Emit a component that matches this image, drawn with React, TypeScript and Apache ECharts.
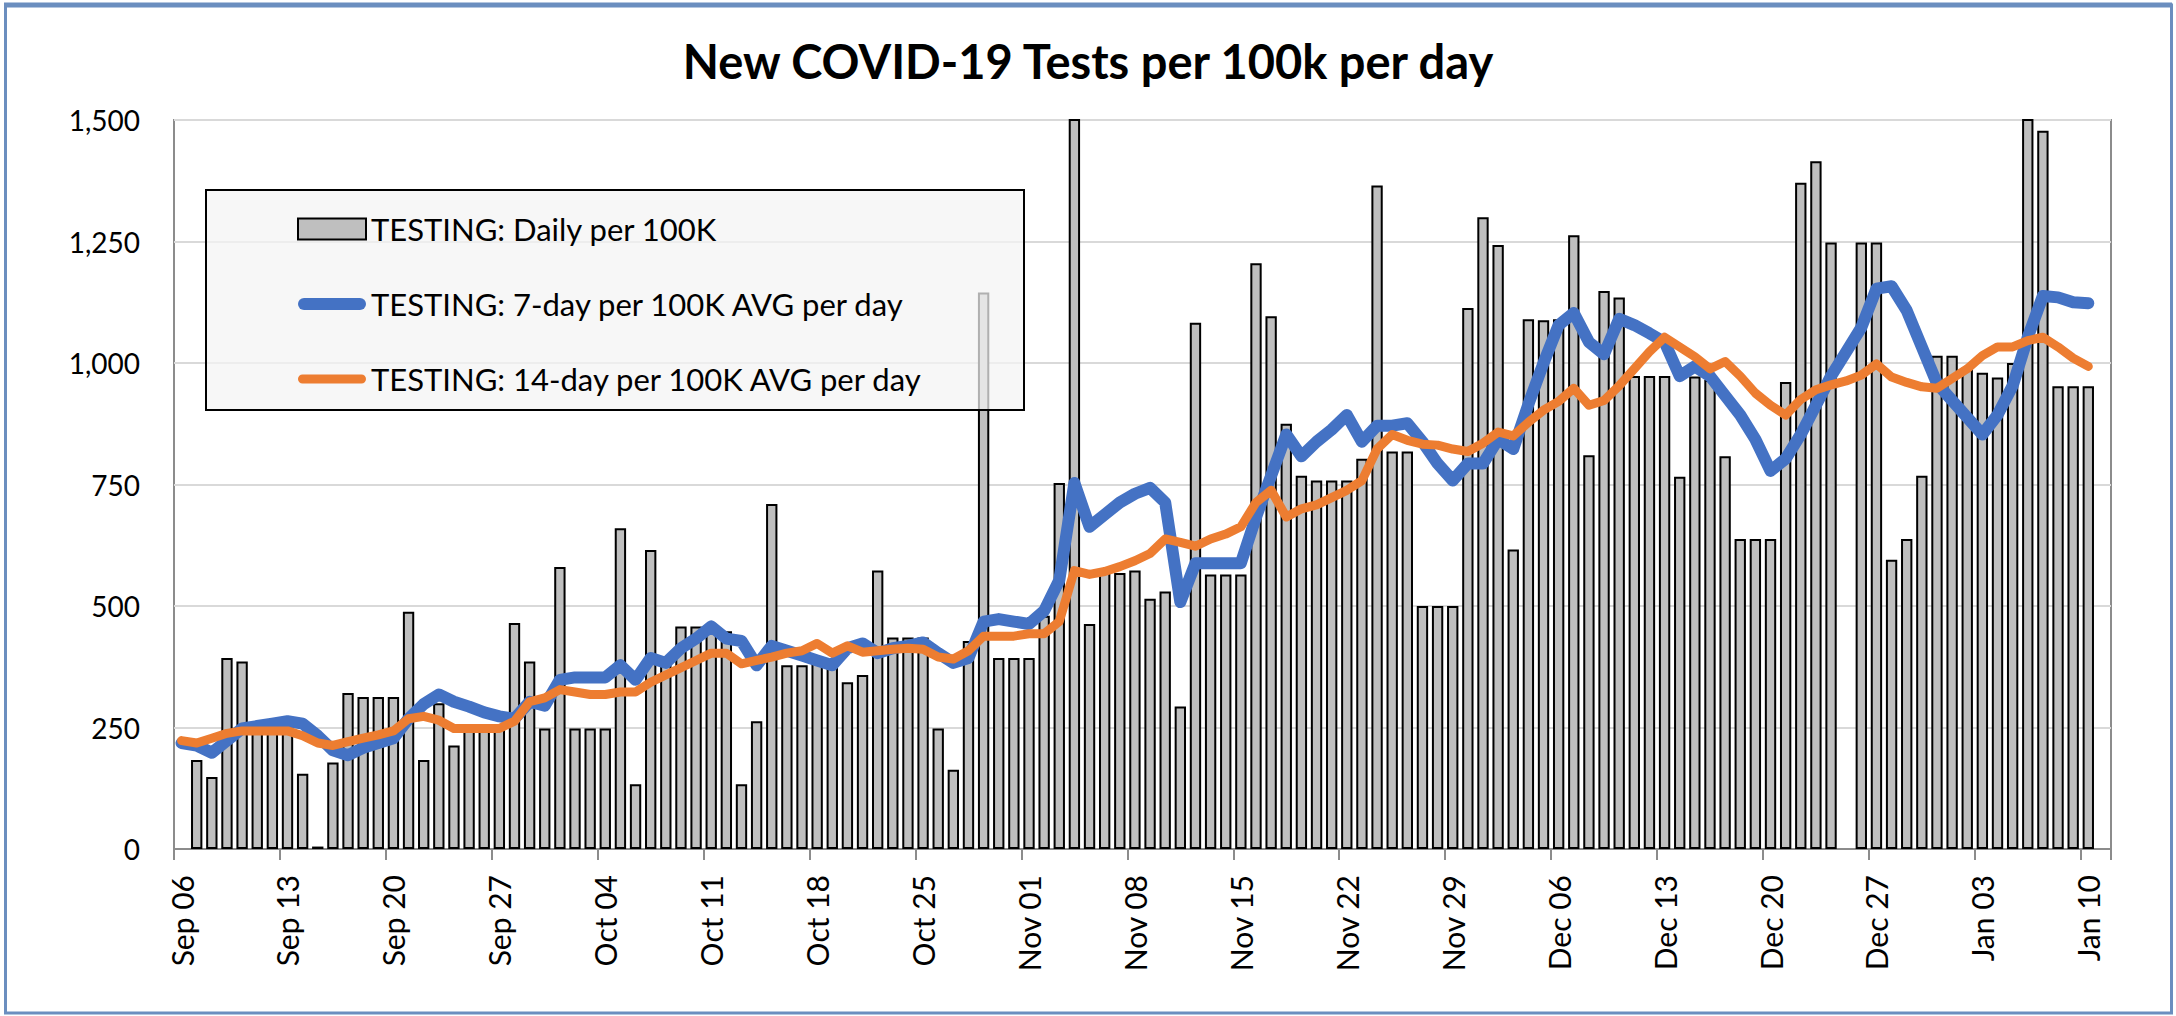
import React, { useEffect, useRef } from "react";
import * as echarts from "echarts";

const TITLE = "New COVID-19 Tests per 100k per day";
const NAME_DAILY = "TESTING: Daily per 100K";
const NAME_7DAY = "TESTING: 7-day per 100K AVG per day";
const NAME_14DAY = "TESTING: 14-day per 100K AVG per day";

const CATEGORIES = [
  "Sep 06","Sep 07","Sep 08","Sep 09","Sep 10","Sep 11","Sep 12","Sep 13","Sep 14","Sep 15","Sep 16","Sep 17","Sep 18","Sep 19","Sep 20",
  "Sep 21","Sep 22","Sep 23","Sep 24","Sep 25","Sep 26","Sep 27","Sep 28","Sep 29","Sep 30",
  "Oct 01","Oct 02","Oct 03","Oct 04","Oct 05","Oct 06","Oct 07","Oct 08","Oct 09","Oct 10","Oct 11","Oct 12","Oct 13","Oct 14","Oct 15",
  "Oct 16","Oct 17","Oct 18","Oct 19","Oct 20","Oct 21","Oct 22","Oct 23","Oct 24","Oct 25","Oct 26","Oct 27","Oct 28","Oct 29","Oct 30","Oct 31",
  "Nov 01","Nov 02","Nov 03","Nov 04","Nov 05","Nov 06","Nov 07","Nov 08","Nov 09","Nov 10","Nov 11","Nov 12","Nov 13","Nov 14","Nov 15",
  "Nov 16","Nov 17","Nov 18","Nov 19","Nov 20","Nov 21","Nov 22","Nov 23","Nov 24","Nov 25","Nov 26","Nov 27","Nov 28","Nov 29","Nov 30",
  "Dec 01","Dec 02","Dec 03","Dec 04","Dec 05","Dec 06","Dec 07","Dec 08","Dec 09","Dec 10","Dec 11","Dec 12","Dec 13","Dec 14","Dec 15",
  "Dec 16","Dec 17","Dec 18","Dec 19","Dec 20","Dec 21","Dec 22","Dec 23","Dec 24","Dec 25","Dec 26","Dec 27","Dec 28","Dec 29","Dec 30","Dec 31",
  "Jan 01","Jan 02","Jan 03","Jan 04","Jan 05","Jan 06","Jan 07","Jan 08","Jan 09","Jan 10","Jan 11",
];

const DAILY: (number | null)[] = [
  null, 183, 148, 393, 386, 250, 250,
  250, 155, 5, 178, 321, 313, 313,
  313, 488, 183, 300, 213, 253, 253,
  253, 465, 386, 248, 580, 248, 248,
  248, 660, 133, 615, 385, 458, 458,
  452, 448, 133, 263, 710, 378, 378,
  385, 380, 343, 358, 573, 435, 435,
  435, 248, 163, 428, 1145, 393, 393,
  393, 480, 753, 1640, 463, 568, 568,
  573, 515, 530, 293, 1083, 565, 565,
  565, 1205, 1096, 875, 768, 758, 758,
  758, 803, 1365, 818, 818, 500, 500,
  500, 1113, 1300, 1243, 616, 1090, 1088,
  1090, 1263, 810, 1148, 1135, 973, 973,
  973, 766, 972, 965, 808, 638, 638,
  638, 961, 1371, 1415, 1248, null, 1248,
  1248, 595, 638, 768, 1015, 1015, 990,
  980, 970, 1000, 1600, 1478, 952, 952,
  952, null,
];

const AVG7: number[] = [
  218, 213, 198, 223, 248, 253, 258,
  263, 258, 233, 203, 193, 208, 218,
  228, 268, 298, 318, 303, 293, 281,
  273, 268, 303, 295, 348, 353, 353,
  353, 378, 348, 393, 383, 413, 433,
  458, 433, 428, 378, 418, 408, 398,
  388, 378, 413, 423, 403, 413, 418,
  425, 403, 383, 393, 468, 473, 468,
  463, 490, 553, 753, 663, 688, 713,
  731, 743, 713, 508, 588, 588, 588,
  588, 683, 768, 853, 808, 838, 863,
  893, 838, 871, 871, 876, 838, 793,
  758, 793, 793, 843, 823, 915, 1000,
  1078, 1103, 1043, 1018, 1091, 1078, 1061,
  1043, 973, 993, 973, 933, 893, 843,
  778, 803, 853, 913, 973, 1023, 1073,
  1153, 1158, 1108, 1033, 958, 923, 888,
  853, 893, 953, 1053, 1138, 1135, 1125,
  1123,
];

const AVG14: number[] = [
  223, 218, 228, 238, 243, 243, 243,
  243, 233, 218, 213, 221, 228, 235,
  243, 268, 273, 265, 248, 248, 248,
  248, 263, 303, 311, 328, 323, 318,
  318, 323, 323, 343, 358, 373, 388,
  403, 403, 381, 388, 395, 403, 408,
  423, 403, 418, 405, 408, 411, 413,
  411, 395, 391, 408, 438, 438, 438,
  443, 443, 468, 573, 565, 571, 581,
  593, 608, 638, 631, 623, 638, 648,
  663, 713, 738, 683, 700, 708, 723,
  738, 758, 823, 853, 841, 833, 831,
  823, 818, 835, 858, 850, 878, 903,
  921, 948, 913, 923, 953, 988, 1023,
  1053, 1033, 1013, 988, 1003, 973, 938,
  913, 893, 925, 945, 955, 963, 975,
  998, 971, 960, 951, 948, 968, 988,
  1015, 1033, 1033, 1046, 1053, 1033, 1010,
  993,
];

const Y_MIN = 0;
const Y_MAX = 1500;
const Y_STEP = 250;

const FONT = "Lato, 'Open Sans', sans-serif";
const BLUE = "#4472c4";
const ORANGE = "#ed7d31";

// rounded "line" legend icons (thick stroke with round caps)
const ICON_BLUE = "path://M6,0 H62 A6,6 0 0 1 62,12 H6 A6,6 0 0 1 6,0 Z";
const ICON_ORANGE = "path://M4.5,0 H63.5 A4.5,4.5 0 0 1 63.5,9 H4.5 A4.5,4.5 0 0 1 4.5,0 Z";

export default function App() {
  const ref = useRef<HTMLDivElement>(null);

  useEffect(() => {
    document.body.style.margin = "0";
    document.body.style.overflow = "hidden";
    const chart = echarts.init(ref.current!, null, { renderer: "svg" });

    const option: any = {
      animation: false,
      backgroundColor: "#ffffff",
      title: {
        text: TITLE,
        left: "center",
        top: 32,
        textStyle: { fontFamily: FONT, fontWeight: "bold", fontSize: 47, color: "#000000" },
      },
      grid: {
        left: 174,
        top: 120,
        width: 1937,
        height: 729,
        show: true,
        borderColor: "#8c8c8c",
        borderWidth: 2,
        backgroundColor: "transparent",
      },
      legend: {
        orient: "vertical",
        left: 292,
        top: 206,
        z: 6,
        itemWidth: 68,
        itemHeight: 21,
        itemGap: 39,
        selectedMode: false,
        textStyle: { fontFamily: FONT, fontSize: 31, color: "#000000", lineHeight: 36 },
        data: [
          { name: NAME_DAILY, icon: "rect", itemStyle: { color: "#bfbfbf", borderColor: "#000000", borderWidth: 2 } },
          { name: NAME_7DAY, icon: ICON_BLUE, itemStyle: { color: BLUE, borderWidth: 0 } },
          { name: NAME_14DAY, icon: ICON_ORANGE, itemStyle: { color: ORANGE, borderWidth: 0 } },
        ],
      },
      graphic: [
        {
          type: "rect",
          z: 5,
          shape: { x: 206, y: 190, width: 818, height: 220 },
          style: { fill: "rgba(244,244,244,0.72)", stroke: "#000000", lineWidth: 2 },
        },
        {
          type: "rect",
          z: 10,
          shape: { x: 5.5, y: 5, width: 2166, height: 1008 },
          style: { fill: "none", stroke: "#6b8ebf", lineWidth: 3 },
        },
        {
          type: "line",
          z: 10,
          shape: { x1: 4, y1: 5, x2: 2172, y2: 5 },
          style: { stroke: "#6b8ebf", lineWidth: 5 },
        },
      ],
      xAxis: {
        type: "category",
        data: CATEGORIES,
        boundaryGap: true,
        axisLine: { show: true, lineStyle: { color: "#8c8c8c", width: 2 } },
        axisTick: { show: true, interval: 6, length: 11, lineStyle: { color: "#8c8c8c", width: 2 } },
        axisLabel: {
          interval: 6,
          rotate: 90,
          margin: 26,
          fontFamily: FONT,
          fontSize: 30,
          color: "#000000",
        },
        splitLine: { show: false },
      },
      yAxis: {
        type: "value",
        min: Y_MIN,
        max: Y_MAX,
        interval: Y_STEP,
        axisLine: { show: false },
        axisTick: { show: false },
        axisLabel: {
          margin: 34,
          fontFamily: FONT,
          fontSize: 28,
          color: "#000000",
          formatter: (v: number) => v.toLocaleString("en-US"),
        },
        splitLine: { show: true, lineStyle: { color: "#d9d9d9", width: 2 } },
      },
      series: [
        {
          name: NAME_DAILY,
          type: "bar",
          data: DAILY,
          barCategoryGap: "25%",
          clip: true,
          itemStyle: { color: "#bfbfbf", borderColor: "#000000", borderWidth: 2 },
        },
        {
          name: NAME_7DAY,
          type: "line",
          data: AVG7,
          symbol: "none",
          showSymbol: false,
          lineStyle: { color: BLUE, width: 12, join: "round", cap: "round" },
          itemStyle: { color: BLUE },
        },
        {
          name: NAME_14DAY,
          type: "line",
          data: AVG14,
          symbol: "none",
          showSymbol: false,
          lineStyle: { color: ORANGE, width: 9, join: "round", cap: "round" },
          itemStyle: { color: ORANGE },
        },
      ],
    };

    chart.setOption(option);
    return () => chart.dispose();
  }, []);

  return <div ref={ref} style={{ width: 2176, height: 1016 }} />;
}
